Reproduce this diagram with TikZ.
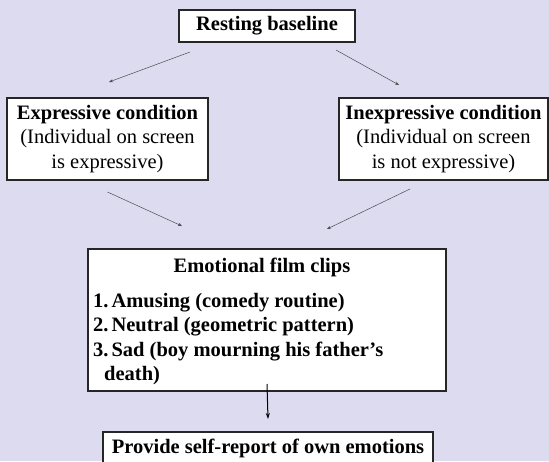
\documentclass[tikz,border=0pt]{standalone}
\usepackage{fontspec}
\setmainfont{Liberation Serif}
\usetikzlibrary{arrows.meta}
\definecolor{lavender}{RGB}{221,219,240}
\begin{document}
\begin{tikzpicture}[x=1pt, y=-1pt,
		font=\fontsize{20.5}{24.5}\selectfont,
		box/.style = {draw=black!85, line width=1.2pt, fill=white, inner sep=0pt, outer sep=0pt, align=center},
		thin arrow/.style = {draw=black!70, line width=0.5pt, -{Stealth[length=4pt, width=3pt]}},
		thick arrow/.style = {draw=black, line width=1pt, -{Stealth[length=6pt, width=4pt]}}]
		% Tausta
		\clip (0,0) rectangle (549,461);
		\fill[lavender] (0,0) rectangle (549,461);
		% Laatikot
		\node[box, minimum width=176pt, minimum height=32pt] (base) at (267,26) {\textbf{Resting baseline}};
		\node[box, minimum width=201pt, minimum height=82pt] (expr) at (107.5,139)
			{\textbf{Expressive condition}\\(Individual on screen\\is expressive)};
		\node[box, minimum width=209pt, minimum height=82pt] (inexpr) at (443.5,139)
			{\textbf{Inexpressive condition}\\(Individual on screen\\is not expressive)};
		\node[box, minimum width=358pt, minimum height=142pt] (clips) at (267,320) {};
		\node[anchor=base, inner sep=0pt] (cliptitle) at ([shift={(-5pt,-23pt)}]clips.north) {\textbf{Emotional film clips}};
		\node[anchor=base west, inner sep=0pt] (cliplist) at (93,307) {\bfseries
			\begin{tabular}[t]{@{}l@{\hspace{3pt}}l@{}}
				1. & Amusing (comedy routine)\\
				2. & Neutral (geometric pattern)\\
				3. & Sad (boy mourning his father's\\
				\multicolumn{2}{@{}l}{\hspace{11pt}death)}
			\end{tabular}};
		\node[box, minimum width=330pt, minimum height=32pt] (report) at (268,448) {\textbf{Provide self-report of own emotions}};
		% Nuolet
		\draw[thin arrow] ([shift={(11pt,-10pt)}]base.south west) -- ([shift={(1.5pt,16pt)}]expr.north);		% base-expr
		\draw[thin arrow] ([shift={(-19pt,-8pt)}]base.south east) -- ([shift={(-44.5pt,13pt)}]inexpr.north);	% base-inexpr
		\draw[thin arrow] ([shift={(0pt,-12pt)}]expr.south) -- ([shift={(-85pt,23pt)}]clips.north);		% expr-clips
		\draw[thin arrow] ([shift={(-33.5pt,-9pt)}]inexpr.south) -- ([shift={(60pt,20pt)}]clips.north);	% inexpr-clips
		\draw[thick arrow] ([yshift=7pt]clips.south) -- ([yshift=13pt]report.north);				% clips-report
\end{tikzpicture}
\end{document}
